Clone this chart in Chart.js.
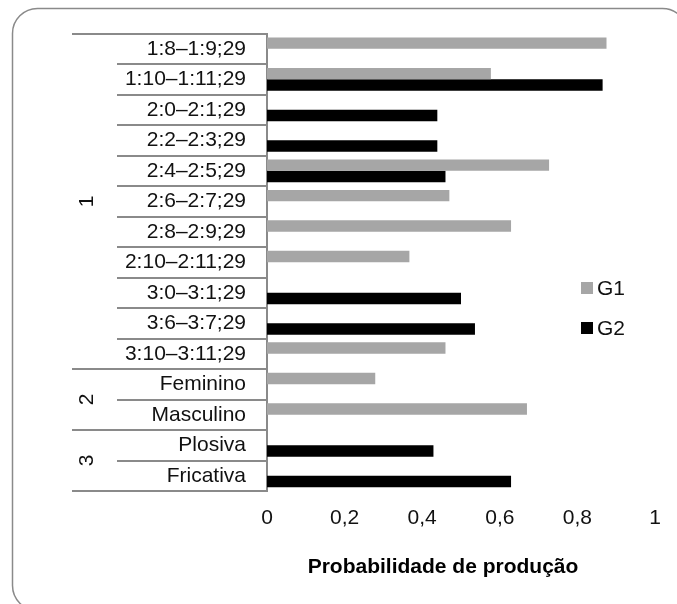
<!DOCTYPE html>
<html>
<head>
  <title>Probabilidade de produção</title>
  <meta charset="utf-8">
  <style>
    body {
      margin: 0;
      background: #fff;
    }
    #wrap {
      width: 677px;
      height: 604px;
    }
  </style>
</head>
<body>
  <div id="wrap"><canvas id="chart" width="677" height="604"></canvas></div>

  <script src="https://cdn.jsdelivr.net/npm/chart.js"></script>
  <script>
    const categories = [
      '1:8–1:9;29', '1:10–1:11;29', '2:0–2:1;29', '2:2–2:3;29', '2:4–2:5;29',
      '2:6–2:7;29', '2:8–2:9;29', '2:10–2:11;29', '3:0–3:1;29', '3:6–3:7;29',
      '3:10–3:11;29', 'Feminino', 'Masculino', 'Plosiva', 'Fricativa'
    ];
    const g1Values = [0.875, 0.577, null, null, 0.727, 0.47, 0.629, 0.367, null, null, 0.46, 0.279, 0.67, null, null];
    const g2Values = [null, 0.865, 0.439, 0.439, 0.46, null, null, null, 0.5, 0.536, null, null, null, 0.429, 0.629];
    const groupNames = ['1', '2', '3'];
    const groupSizes = [11, 2, 2];
    const xTicks = [0, 0.2, 0.4, 0.6, 0.8, 1];
    const axisTitle = 'Probabilidade de produção';

    const FONT = "'Liberation Sans', Arial, sans-serif";
    const TEXT = '#111';
    const LINE = '#8a8a8a';

    // rounded frame, label table, group labels, legend and axis title
    const decor = {
      id: 'decor',
      beforeDraw(chart) {
        const ctx = chart.ctx;
        ctx.save();
        ctx.strokeStyle = LINE;
        ctx.lineWidth = 1.5;
        ctx.beginPath();
        ctx.roundRect(12.5, 8.5, 675, 602, 25);
        ctx.stroke();
        ctx.restore();
      },
      afterDraw(chart) {
        const ctx = chart.ctx;
        const y = chart.scales.y;
        const area = chart.chartArea;
        const step = y.getPixelForValue(1) - y.getPixelForValue(0);
        const edge = i => y.getPixelForValue(0) - step / 2 + i * step;

        const groupEdges = [0];
        groupSizes.forEach(n => groupEdges.push(groupEdges[groupEdges.length - 1] + n));

        ctx.save();
        ctx.strokeStyle = LINE;
        ctx.lineWidth = 2;
        for (let i = 0; i <= categories.length; i++) {
          const yy = Math.round(edge(i));
          ctx.beginPath();
          ctx.moveTo(groupEdges.includes(i) ? 72 : 117, yy);
          ctx.lineTo(area.left, yy);
          ctx.stroke();
        }

        // group labels, rotated
        ctx.fillStyle = TEXT;
        ctx.font = '21px ' + FONT;
        ctx.textAlign = 'center';
        ctx.textBaseline = 'middle';
        groupNames.forEach((name, g) => {
          const mid = (edge(groupEdges[g]) + edge(groupEdges[g + 1])) / 2;
          ctx.save();
          ctx.translate(87, mid);
          ctx.rotate(-Math.PI / 2);
          ctx.fillText(name, 0, 0);
          ctx.restore();
        });

        // legend
        ctx.textAlign = 'left';
        chart.data.datasets.forEach((ds, i) => {
          const cy = 288 + i * 40;
          ctx.fillStyle = ds.backgroundColor;
          ctx.fillRect(581, cy - 6, 12, 12);
          ctx.fillStyle = TEXT;
          ctx.fillText(ds.label, 597, cy + 1);
        });

        // axis title
        ctx.textAlign = 'center';
        ctx.font = 'bold 21px ' + FONT;
        ctx.fillStyle = '#000';
        ctx.fillText(axisTitle, 443, 567);
        ctx.restore();
      }
    };

    new Chart(document.getElementById('chart'), {
      type: 'bar',
      data: {
        labels: categories,
        datasets: [
          { label: 'G1', data: g1Values, backgroundColor: '#a6a6a6' },
          { label: 'G2', data: g2Values, backgroundColor: '#000000' }
        ]
      },
      options: {
        indexAxis: 'y',
        responsive: false,
        animation: false,
        devicePixelRatio: 1,
        barPercentage: 1,
        categoryPercentage: 0.75,
        layout: { padding: { top: 33, right: 22, bottom: 0, left: 0 } },
        plugins: {
          legend: { display: false },
          tooltip: { enabled: false }
        },
        scales: {
          x: {
            min: 0,
            max: 1,
            afterFit: s => { s.height = 113; },
            afterBuildTicks: s => { s.ticks = xTicks.map(v => ({ value: v })); },
            grid: { display: false, drawTicks: false },
            border: { display: false },
            ticks: {
              padding: 15,
              color: TEXT,
              font: { family: FONT, size: 21 },
              callback: v => String(v).replace('.', ',')
            }
          },
          y: {
            afterFit: s => { s.width = 267; },
            grid: { display: false, drawTicks: false },
            border: { display: true, color: LINE, width: 2 },
            ticks: {
              padding: 21,
              color: TEXT,
              autoSkip: false,
              font: { family: FONT, size: 21 }
            }
          }
        }
      },
      plugins: [decor]
    });
  </script>
</body>
</html>
